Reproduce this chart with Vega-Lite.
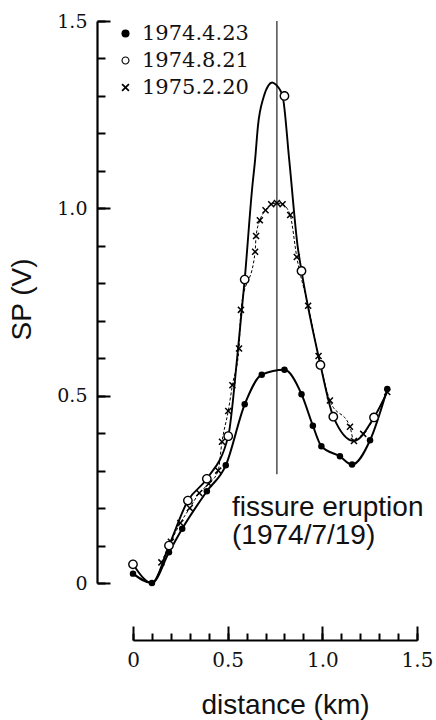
{
  "$schema": "https://vega.github.io/schema/vega-lite/v6.json",
  "width": 284,
  "height": 562,
  "autosize": {"type": "none"},
  "padding": {"left": 133, "top": 21, "right": 19, "bottom": 137},
  "background": "white",
  "config": {"view": {"stroke": null}},
  "resolve": {"axis": {"x": "independent", "y": "independent"}},
  "datasets": {
    "markers": [
      {"series": "1974.4.23", "x": 0, "y": 0.025},
      {"series": "1974.4.23", "x": 0.1, "y": 0.0},
      {"series": "1974.4.23", "x": 0.19, "y": 0.082},
      {"series": "1974.4.23", "x": 0.26, "y": 0.145},
      {"series": "1974.4.23", "x": 0.39, "y": 0.245},
      {"series": "1974.4.23", "x": 0.49, "y": 0.314},
      {"series": "1974.4.23", "x": 0.59, "y": 0.477},
      {"series": "1974.4.23", "x": 0.68, "y": 0.556},
      {"series": "1974.4.23", "x": 0.8, "y": 0.569},
      {"series": "1974.4.23", "x": 0.89, "y": 0.504},
      {"series": "1974.4.23", "x": 0.95, "y": 0.42},
      {"series": "1974.4.23", "x": 0.995, "y": 0.365},
      {"series": "1974.4.23", "x": 1.093, "y": 0.338},
      {"series": "1974.4.23", "x": 1.157, "y": 0.316},
      {"series": "1974.4.23", "x": 1.252, "y": 0.381},
      {"series": "1974.4.23", "x": 1.343, "y": 0.518},
      {"series": "1974.8.21", "x": 0, "y": 0.05},
      {"series": "1974.8.21", "x": 0.19, "y": 0.1},
      {"series": "1974.8.21", "x": 0.29, "y": 0.22},
      {"series": "1974.8.21", "x": 0.39, "y": 0.278},
      {"series": "1974.8.21", "x": 0.503, "y": 0.392},
      {"series": "1974.8.21", "x": 0.59, "y": 0.81},
      {"series": "1974.8.21", "x": 0.8, "y": 1.3},
      {"series": "1974.8.21", "x": 0.89, "y": 0.833},
      {"series": "1974.8.21", "x": 0.99, "y": 0.582},
      {"series": "1974.8.21", "x": 1.058, "y": 0.444},
      {"series": "1974.8.21", "x": 1.273, "y": 0.442},
      {"series": "1975.2.20", "x": 0.15, "y": 0.055},
      {"series": "1975.2.20", "x": 0.2, "y": 0.11},
      {"series": "1975.2.20", "x": 0.25, "y": 0.16},
      {"series": "1975.2.20", "x": 0.3, "y": 0.2},
      {"series": "1975.2.20", "x": 0.35, "y": 0.24},
      {"series": "1975.2.20", "x": 0.4, "y": 0.265},
      {"series": "1975.2.20", "x": 0.45, "y": 0.3},
      {"series": "1975.2.20", "x": 0.47, "y": 0.377},
      {"series": "1975.2.20", "x": 0.503, "y": 0.459},
      {"series": "1975.2.20", "x": 0.525, "y": 0.528},
      {"series": "1975.2.20", "x": 0.56, "y": 0.626},
      {"series": "1975.2.20", "x": 0.57, "y": 0.729},
      {"series": "1975.2.20", "x": 0.645, "y": 0.884},
      {"series": "1975.2.20", "x": 0.65, "y": 0.926},
      {"series": "1975.2.20", "x": 0.67, "y": 0.968},
      {"series": "1975.2.20", "x": 0.7, "y": 0.995},
      {"series": "1975.2.20", "x": 0.73, "y": 1.011},
      {"series": "1975.2.20", "x": 0.76, "y": 1.014},
      {"series": "1975.2.20", "x": 0.79, "y": 1.011},
      {"series": "1975.2.20", "x": 0.83, "y": 0.982},
      {"series": "1975.2.20", "x": 0.865, "y": 0.87},
      {"series": "1975.2.20", "x": 0.925, "y": 0.74},
      {"series": "1975.2.20", "x": 0.98, "y": 0.606},
      {"series": "1975.2.20", "x": 1.04, "y": 0.487},
      {"series": "1975.2.20", "x": 1.146, "y": 0.417},
      {"series": "1975.2.20", "x": 1.167, "y": 0.379},
      {"series": "1975.2.20", "x": 1.216, "y": 0.398},
      {"series": "1975.2.20", "x": 1.343, "y": 0.51}
    ],
    "curve": [
      {"x": 0, "y": 0.05},
      {"x": 0.1, "y": 0.0},
      {"x": 0.19, "y": 0.1},
      {"x": 0.29, "y": 0.22},
      {"x": 0.39, "y": 0.278},
      {"x": 0.503, "y": 0.392},
      {"x": 0.55, "y": 0.6},
      {"x": 0.59, "y": 0.81},
      {"x": 0.63, "y": 1.057},
      {"x": 0.645, "y": 1.13},
      {"x": 0.66, "y": 1.22},
      {"x": 0.69, "y": 1.297},
      {"x": 0.715, "y": 1.328},
      {"x": 0.735, "y": 1.336},
      {"x": 0.755, "y": 1.33},
      {"x": 0.79, "y": 1.3},
      {"x": 0.825, "y": 1.13},
      {"x": 0.87, "y": 0.897},
      {"x": 0.89, "y": 0.833},
      {"x": 0.99, "y": 0.582},
      {"x": 1.058, "y": 0.444},
      {"x": 1.167, "y": 0.379},
      {"x": 1.273, "y": 0.442},
      {"x": 1.343, "y": 0.51}
    ],
    "eruption": [{"x": 0.76, "y": 0.29, "y2": 1.5}],
    "note": [{"x": 0.523, "y": 0.178, "text": "fissure eruption\n(1974/7/19)"}]
  },
  "layer": [
    {
      "data": {"name": "eruption"},
      "mark": {"type": "rule", "color": "#333", "strokeWidth": 1.3},
      "encoding": {
        "x": {"field": "x", "type": "quantitative", "axis": null},
        "y": {"field": "y", "type": "quantitative", "axis": null},
        "y2": {"field": "y2"}
      }
    },
    {
      "data": {"name": "curve"},
      "mark": {"type": "line", "interpolate": "monotone", "color": "black", "strokeWidth": 1.9},
      "encoding": {
        "x": {"field": "x", "type": "quantitative", "scale": {"domain": [0, 1.5], "nice": false, "zero": false},
          "axis": {
            "orient": "top", "offset": -619, "grid": false,
            "values": [0, 0.1, 0.2, 0.3, 0.4, 0.5, 0.6, 0.7, 0.8, 0.9, 1.0, 1.1, 1.2, 1.3, 1.4, 1.5],
            "domain": true, "ticks": true, "tickSize": 7,
            "domainColor": "black", "domainWidth": 2.2,
            "tickColor": "black", "tickWidth": 2,
            "labelPadding": -17, "labelBaseline": "top", "labelAlign": "center",
            "labelExpr": "abs(datum.value*2 - round(datum.value*2)) < 0.001 ? (datum.value == 0 ? '0' : format(datum.value, '.1f')) : ''",
            "labelFont": "DejaVu Serif", "labelFontSize": 20, "labelColor": "#111",
            "labelOverlap": false, "labelFlush": false, "labelBound": false,
            "title": "distance (km)", "titleFont": "Liberation Sans", "titleFontSize": 28, "titleFontWeight": "normal",
            "titleColor": "#111", "titleX": 152, "titleY": 73, "titleBaseline": "alphabetic", "titleAlign": "center", "titleAngle": 0
          }
        },
        "y": {"field": "y", "type": "quantitative", "scale": {"domain": [0, 1.5], "nice": false, "zero": false},
          "axis": {
            "orient": "right", "offset": -320, "grid": false,
            "values": [0, 0.1, 0.2, 0.3, 0.4, 0.5, 0.6, 0.7, 0.8, 0.9, 1.0, 1.1, 1.2, 1.3, 1.4, 1.5],
            "domain": true, "ticks": true, "tickSize": 8,
            "domainColor": "black", "domainWidth": 2.2,
            "tickColor": "black", "tickWidth": 2,
            "labelPadding": -18, "labelAlign": "right", "labelBaseline": "middle",
            "labelExpr": "abs(datum.value*2 - round(datum.value*2)) < 0.001 ? (datum.value == 0 ? '0' : format(datum.value, '.1f')) : ''",
            "labelFont": "DejaVu Serif", "labelFontSize": 19, "labelColor": "#111",
            "labelOverlap": false, "labelFlush": false, "labelBound": false,
            "title": "SP (V)", "titleFont": "Liberation Sans", "titleFontSize": 28, "titleFontWeight": "normal",
            "titleColor": "#111", "titleX": -67, "titleY": 278, "titleAngle": -90, "titleBaseline": "alphabetic", "titleAlign": "center"
          }
        }
      }
    },
    {
      "data": {"name": "markers"},
      "transform": [{"filter": "datum.series == '1975.2.20'"}],
      "mark": {"type": "line", "interpolate": "monotone", "color": "black", "strokeWidth": 1, "strokeDash": [3, 2]},
      "encoding": {
        "x": {"field": "x", "type": "quantitative",
          "axis": {
            "orient": "top", "offset": -619, "grid": false,
            "values": [0, 0.5, 1.0, 1.5],
            "domain": false, "ticks": true, "tickSize": 14, "labels": false, "title": null,
            "tickColor": "black", "tickWidth": 2
          }
        },
        "y": {"field": "y", "type": "quantitative",
          "axis": {
            "orient": "right", "offset": -320, "grid": false,
            "values": [0, 0.5, 1.0, 1.5],
            "domain": false, "ticks": true, "tickSize": 13, "labels": false, "title": null,
            "tickColor": "black", "tickWidth": 2
          }
        }
      }
    },
    {
      "data": {"name": "markers"},
      "transform": [{"filter": "datum.series == '1974.4.23'"}],
      "mark": {"type": "line", "interpolate": "monotone", "color": "black", "strokeWidth": 2},
      "encoding": {
        "x": {"field": "x", "type": "quantitative", "axis": null},
        "y": {"field": "y", "type": "quantitative", "axis": null}
      }
    },
    {
      "data": {"name": "markers"},
      "transform": [{"filter": "datum.series == '1975.2.20'"}],
      "mark": {"type": "point", "filled": true, "color": "black", "size": 50, "opacity": 1},
      "encoding": {
        "x": {"field": "x", "type": "quantitative", "axis": null},
        "y": {"field": "y", "type": "quantitative", "axis": null},
        "shape": {"field": "series", "type": "nominal",
          "scale": {"domain": ["1974.4.23", "1974.8.21", "1975.2.20"],
            "range": ["circle",
              "M1,0A1,1 0 1,0 -1,0A1,1 0 1,0 1,0ZM0.72,0A0.72,0.72 0 1,1 -0.72,0A0.72,0.72 0 1,1 0.72,0Z",
              "M-1,-0.7L-0.7,-1L0,-0.3L0.7,-1L1,-0.7L0.3,0L1,0.7L0.7,1L0,0.3L-0.7,1L-1,0.7L-0.3,0Z"]},
          "legend": {"orient": "none", "legendX": -18, "legendY": 2, "title": null, "padding": 0,
            "labelFont": "DejaVu Serif", "labelFontSize": 21, "labelColor": "#111", "labelOffset": 6,
            "symbolSize": 65, "symbolFillColor": "black", "symbolStrokeWidth": 0, "rowPadding": 5}}
      }
    },
    {
      "data": {"name": "markers"},
      "transform": [{"filter": "datum.series == '1974.8.21'"}],
      "mark": {"type": "point", "shape": "circle", "filled": true, "color": "white", "size": 80, "opacity": 1},
      "encoding": {
        "x": {"field": "x", "type": "quantitative", "axis": null},
        "y": {"field": "y", "type": "quantitative", "axis": null}
      }
    },
    {
      "data": {"name": "markers"},
      "transform": [{"filter": "datum.series == '1974.8.21'"}],
      "mark": {"type": "point", "filled": true, "color": "black", "size": 95, "opacity": 1},
      "encoding": {
        "x": {"field": "x", "type": "quantitative", "axis": null},
        "y": {"field": "y", "type": "quantitative", "axis": null},
        "shape": {"field": "series", "type": "nominal"}
      }
    },
    {
      "data": {"name": "markers"},
      "transform": [{"filter": "datum.series == '1974.4.23'"}],
      "mark": {"type": "point", "filled": true, "color": "black", "size": 42, "opacity": 1},
      "encoding": {
        "x": {"field": "x", "type": "quantitative", "axis": null},
        "y": {"field": "y", "type": "quantitative", "axis": null},
        "shape": {"field": "series", "type": "nominal"}
      }
    },
    {
      "data": {"name": "note"},
      "mark": {"type": "text", "align": "left", "baseline": "alphabetic", "font": "Liberation Sans", "fontSize": 28, "lineBreak": "\n", "lineHeight": 28, "color": "#111"},
      "encoding": {
        "x": {"field": "x", "type": "quantitative", "axis": null},
        "y": {"field": "y", "type": "quantitative", "axis": null},
        "text": {"field": "text"}
      }
    }
  ]
}
